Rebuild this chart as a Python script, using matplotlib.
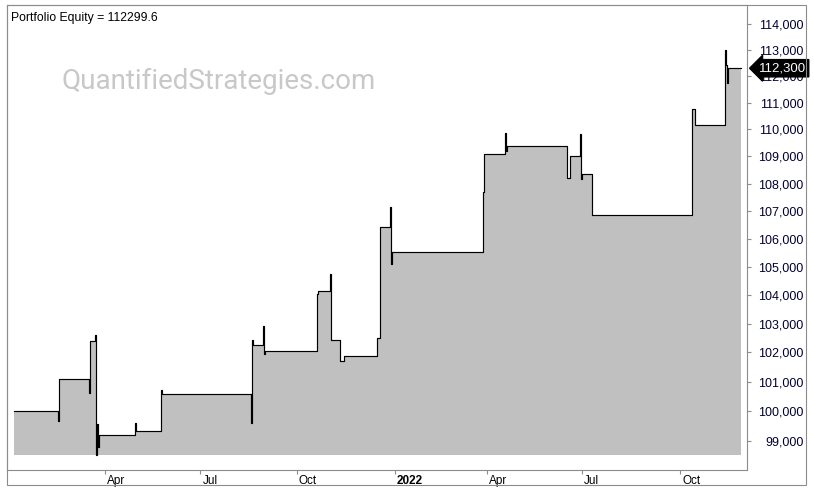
import matplotlib
matplotlib.use('Agg')
import matplotlib.pyplot as plt
import matplotlib.transforms as mtransforms
from matplotlib.patches import Rectangle
import matplotlib.ticker as mticker
import pandas as pd

# equity values, each one holds until the next date (daily closes)
dates = ['2021-01-04', '2021-02-15', '2021-02-16', '2021-03-16', '2021-03-17',
         '2021-03-22', '2021-03-23', '2021-03-24', '2021-03-25', '2021-03-26',
         '2021-04-29', '2021-04-30', '2021-05-24', '2021-05-25', '2021-08-18',
         '2021-08-19', '2021-08-20', '2021-08-30', '2021-08-31', '2021-09-01',
         '2021-10-21', '2021-10-22', '2021-11-02', '2021-11-03', '2021-11-12',
         '2021-11-15', '2021-12-17', '2021-12-20', '2021-12-29', '2021-12-30',
         '2021-12-31', '2022-03-28', '2022-03-29', '2022-04-18', '2022-04-19',
         '2022-04-20', '2022-06-17', '2022-06-20', '2022-06-29', '2022-06-30',
         '2022-07-01', '2022-07-11', '2022-10-14', '2022-10-17', '2022-11-15',
         '2022-11-16', '2022-11-17', '2022-11-18', '2022-11-30']
equity = [100000, 99670, 101080, 100600, 102410,
          102610, 98520, 99560, 98800, 99190,
          99580, 99325, 100710, 100577, 99605,
          102440, 102260, 102920, 101940, 102042,
          104040, 104147, 104747, 102440, 101718,
          101879, 102492, 106418, 107140, 105100,
          105531, 107684, 109091, 109856, 109213,
          109387, 108218, 109006, 109830, 108160,
          108343, 106871, 110750, 110155, 112998,
          112405, 111731, 112303, 112300]

tick_dates = ['2021-04-01', '2021-07-01', '2021-10-01', '2022-01-03',
              '2022-04-01', '2022-07-01', '2022-10-03']
tick_labels = ['Apr', 'Jul', 'Oct', '2022', 'Apr', 'Jul', 'Oct']
y_ticks = [99000, 100000, 101000, 102000, 103000, 104000, 105000, 106000,
           107000, 108000, 109000, 110000, 111000, 112000, 113000, 114000]
final_equity = 112299.6

x = pd.to_datetime(dates)
frame_col = '#8c8c8c'

fig = plt.figure(figsize=(8.14, 4.92), dpi=100)
ax = fig.add_axes([7 / 814, 22 / 492, 740 / 814, 465 / 492])

ax.fill_between(x, equity, min(equity), step='post', color='#c0c0c0', lw=0, zorder=1)
ax.plot(x, equity, drawstyle='steps-post', color='black', lw=0.85, zorder=2)

ax.set_yscale('log')
ax.set_ylim(98020, 114730)
ax.set_xlim(pd.Timestamp('2020-12-28'), pd.Timestamp('2022-12-06'))

# right price axis
ax.yaxis.tick_right()
ax.yaxis.set_minor_locator(mticker.NullLocator())
ax.yaxis.set_minor_formatter(mticker.NullFormatter())
ax.set_yticks(y_ticks)
ax.set_yticklabels([f'{v:,}' for v in y_ticks])
ax.tick_params(axis='y', direction='out', length=3, width=0.8, color=frame_col,
               pad=37.5, labelsize=9, labelcolor='#000033')
for lab in ax.get_yticklabels():
    lab.set_ha('right')
    lab.set_family('Liberation Sans')

# date axis
ax.set_xticks(pd.to_datetime(tick_dates))
ax.set_xticklabels(tick_labels)
ax.tick_params(axis='x', direction='out', length=3, width=0.8, color=frame_col,
               pad=0.5, labelsize=8.5)
shift = mtransforms.ScaledTranslation(2 / 100, 0, fig.dpi_scale_trans)
for lab in ax.get_xticklabels():
    lab.set_ha('left')
    lab.set_family('Liberation Sans')
    lab.set_transform(lab.get_transform() + shift)
    if lab.get_text() == '2022':
        lab.set_fontweight('bold')

for s in ax.spines.values():
    s.set_color(frame_col)
    s.set_linewidth(0.8)

# outer frame around plot + axis bands
fig.add_artist(Rectangle((7 / 814, 7 / 492), 799 / 814, 480 / 492, transform=fig.transFigure,
                         fill=False, ec=frame_col, lw=0.8))

ax.text(0.006, 0.985, f'Portfolio Equity = {final_equity}', transform=ax.transAxes,
        ha='left', va='top', fontsize=8.8, family='Liberation Sans', color='black')
ax.text(0.074, 0.835, 'QuantifiedStrategies.com', transform=ax.transAxes,
        ha='left', va='center', fontsize=20, family='Roboto', color='#c8c8c8', zorder=0)

# last value tag on the price axis
tag_tr = mtransforms.blended_transform_factory(ax.transAxes, ax.transData)
tag_tr = tag_tr + mtransforms.ScaledTranslation(12 / 100, 0, fig.dpi_scale_trans)
ax.text(1.0, equity[-1], f'{round(final_equity):,}', transform=tag_tr, ha='left', va='center',
        fontsize=9.5, family='Liberation Sans', color='white', clip_on=False, zorder=5,
        bbox=dict(boxstyle='larrow,pad=0.2', fc='black', ec='black'))

fig.savefig('out.png', dpi=100, facecolor='white')
